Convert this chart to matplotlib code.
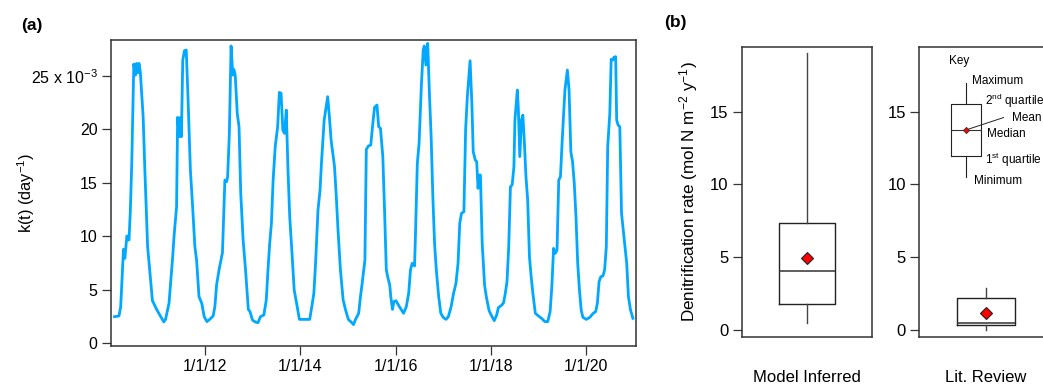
import numpy as np
import matplotlib
matplotlib.use("Agg")
import matplotlib.pyplot as plt

plt.rcParams['font.family'] = ['Liberation Sans', 'DejaVu Sans']
plt.rcParams['mathtext.fontset'] = 'custom'
plt.rcParams['mathtext.rm'] = 'Liberation Sans'
plt.rcParams['mathtext.it'] = 'Liberation Sans'
plt.rcParams['mathtext.default'] = 'regular'

# panel (a): k(t) time series, time in decimal years, k in 1e-3 day^-1
t_year = [
    2010.096, 2010.190, 2010.226, 2010.284, 2010.313, 2010.356, 2010.400, 2010.429, 2010.458, 2010.501,
    2010.537, 2010.559, 2010.588, 2010.610, 2010.639, 2010.660, 2010.697, 2010.733, 2010.791, 2010.841,
    2010.892, 2010.986, 2011.131, 2011.167, 2011.240, 2011.312, 2011.348, 2011.399, 2011.421, 2011.457,
    2011.479, 2011.500, 2011.529, 2011.565, 2011.602, 2011.638, 2011.689, 2011.732, 2011.783, 2011.819,
    2011.870, 2011.928, 2011.979, 2012.036, 2012.094, 2012.167, 2012.203, 2012.239, 2012.290, 2012.362,
    2012.413, 2012.449, 2012.471, 2012.507, 2012.543, 2012.579, 2012.601, 2012.630, 2012.673, 2012.710,
    2012.746, 2012.796, 2012.847, 2012.905, 2012.941, 2012.992, 2013.050, 2013.108, 2013.159, 2013.231,
    2013.282, 2013.318, 2013.354, 2013.390, 2013.426, 2013.470, 2013.521, 2013.557, 2013.593, 2013.629,
    2013.666, 2013.702, 2013.738, 2013.774, 2013.818, 2013.868, 2013.919, 2013.977, 2014.064, 2014.194,
    2014.238, 2014.281, 2014.317, 2014.368, 2014.411, 2014.440, 2014.498, 2014.571, 2014.607, 2014.643,
    2014.679, 2014.715, 2014.752, 2014.788, 2014.839, 2014.896, 2014.947, 2015.005, 2015.078, 2015.114,
    2015.150, 2015.222, 2015.259, 2015.295, 2015.353, 2015.382, 2015.425, 2015.476, 2015.512, 2015.555,
    2015.606, 2015.642, 2015.679, 2015.729, 2015.765, 2015.802, 2015.838, 2015.874, 2015.896, 2015.932,
    2015.961, 2016.004, 2016.077, 2016.164, 2016.222, 2016.272, 2016.309, 2016.345, 2016.395, 2016.417,
    2016.453, 2016.490, 2016.540, 2016.577, 2016.598, 2016.634, 2016.671, 2016.707, 2016.743, 2016.779,
    2016.815, 2016.852, 2016.902, 2016.946, 2016.997, 2017.055, 2017.105, 2017.163, 2017.214, 2017.264,
    2017.308, 2017.344, 2017.380, 2017.431, 2017.467, 2017.503, 2017.561, 2017.598, 2017.627, 2017.670,
    2017.699, 2017.728, 2017.757, 2017.778, 2017.815, 2017.865, 2017.902, 2017.960, 2018.010, 2018.068,
    2018.119, 2018.155, 2018.227, 2018.264, 2018.300, 2018.336, 2018.372, 2018.408, 2018.444, 2018.481,
    2018.502, 2018.553, 2018.575, 2018.604, 2018.640, 2018.669, 2018.698, 2018.734, 2018.770, 2018.807,
    2018.843, 2018.879, 2018.930, 2018.988, 2019.060, 2019.133, 2019.191, 2019.241, 2019.277, 2019.314,
    2019.350, 2019.386, 2019.422, 2019.458, 2019.495, 2019.552, 2019.603, 2019.639, 2019.676, 2019.712,
    2019.748, 2019.784, 2019.820, 2019.857, 2019.893, 2019.929, 2020.001, 2020.074, 2020.146, 2020.197,
    2020.233, 2020.269, 2020.305, 2020.349, 2020.385, 2020.421, 2020.450, 2020.494, 2020.523, 2020.559,
    2020.580, 2020.617, 2020.638, 2020.667, 2020.704, 2020.740, 2020.776, 2020.812, 2020.849, 2020.885,
    2020.929, 2020.979,
]
k_vals = [
    2.49, 2.56, 3.43, 8.79, 7.95, 10.04, 9.66, 12.47, 16.83, 26.12,
    25.09, 26.18, 25.31, 26.18, 25.31, 23.85, 21.20, 16.21, 9.04, 6.55,
    3.99, 3.12, 2.00, 2.24, 3.74, 7.79, 10.13, 12.78, 21.13, 19.33,
    21.13, 19.33, 26.50, 27.37, 27.43, 23.07, 16.21, 13.09, 9.04, 7.79,
    4.36, 3.74, 2.49, 2.03, 2.24, 2.56, 3.43, 5.46, 6.86, 8.48,
    15.27, 15.12, 15.59, 19.64, 27.81, 25.09, 25.62, 25.09, 21.51, 20.26,
    14.03, 9.66, 6.86, 3.18, 2.96, 2.18, 2.00, 1.93, 2.49, 2.65,
    4.05, 6.86, 9.35, 11.22, 15.27, 18.39, 20.26, 23.47, 23.38, 19.95,
    19.64, 21.82, 16.21, 11.85, 8.73, 4.99, 3.74, 2.24, 2.24, 2.24,
    3.43, 4.68, 7.48, 12.47, 14.34, 16.83, 20.89, 23.07, 21.20, 19.01,
    17.77, 16.52, 13.72, 10.60, 6.86, 4.05, 3.12, 2.24, 1.93, 1.75,
    2.18, 2.81, 4.36, 5.61, 7.79, 18.14, 18.45, 18.55, 20.26, 22.07,
    22.29, 20.26, 20.11, 17.46, 12.47, 6.86, 6.08, 5.46, 4.36, 3.18,
    3.90, 3.99, 3.43, 2.81, 3.43, 4.68, 6.86, 7.48, 7.23, 10.60,
    16.83, 18.70, 24.31, 27.43, 27.81, 26.03, 28.05, 23.38, 19.33, 13.72,
    9.35, 6.86, 4.36, 2.81, 2.43, 2.24, 2.49, 3.43, 4.68, 5.61,
    7.48, 11.22, 12.16, 12.31, 19.95, 23.07, 26.43, 22.44, 17.92, 17.14,
    16.99, 14.50, 15.74, 15.74, 9.35, 5.46, 4.36, 3.05, 2.59, 2.12,
    2.65, 3.34, 3.58, 3.80, 4.68, 5.77, 9.04, 14.65, 14.81, 16.52,
    20.89, 23.69, 21.82, 17.46, 20.89, 21.35, 19.01, 15.59, 13.40, 8.10,
    6.23, 4.68, 2.81, 2.59, 2.34, 2.03, 2.03, 2.96, 5.30, 8.88,
    8.42, 8.73, 15.27, 15.59, 19.01, 23.69, 25.56, 23.69, 17.92, 16.99,
    14.96, 11.85, 7.48, 4.99, 3.12, 2.43, 2.24, 2.43, 2.81, 2.96,
    3.74, 5.77, 6.23, 6.30, 6.86, 9.04, 18.39, 21.51, 26.56, 26.50,
    26.75, 26.81, 20.89, 20.42, 20.26, 12.16, 10.60, 9.04, 7.48, 4.36,
    3.12, 2.34,
]
x_ticks = [2012, 2014, 2016, 2018, 2020]
x_ticklabels = ["1/1/12", "1/1/14", "1/1/16", "1/1/18", "1/1/20"]
y_ticks = [0, 5, 10, 15, 20, 25]
y_ticklabels = ["0", "5", "10", "15", "20", "25 x 10$^{-3}$"]

# panel (b): box plot statistics (mol N m-2 y-1)
groups = ["Model Inferred", "Lit. Review"]
stat_min = [0.46, 0.0]
stat_q1 = [1.77, 0.34]
stat_med = [4.08, 0.50]
stat_q3 = [7.37, 2.17]
stat_max = [19.02, 2.91]
stat_mean = [4.93, 1.15]

# key box (illustration)
key_stats = dict(whislo=10.54, q1=11.98, med=13.75, q3=15.51, whishi=16.95, mean=13.75)
key_labels = ["Maximum", "2$^{nd}$ quartile", "Mean", "Median", "1$^{st}$ quartile", "Minimum"]

fig = plt.figure(figsize=(10.43, 3.86), dpi=100)
W, H = 1043, 386

def px_axes(left, top, right, bottom):
    return fig.add_axes([left / W, 1 - bottom / H, (right - left) / W, (bottom - top) / H])

spine_col = '#333333'

# ---- panel (a)
ax = px_axes(110.7, 40, 636, 346)
ax.plot(t_year, np.array(k_vals) * 1e-3, color='#00a8ff', lw=2.0)
ax.set_xlim(2010.016, 2021.044)
ax.set_ylim(-0.25e-3, 28.37e-3)
ax.set_xticks(x_ticks)
ax.set_xticklabels(x_ticklabels)
ax.set_yticks(np.array(y_ticks) * 1e-3)
ax.set_yticklabels(y_ticklabels)
ax.tick_params(direction='out', length=6.5, width=0.9, color=spine_col, labelsize=11.5, pad=3)
ax.set_ylabel("k(t) (day$^{-1}$)", fontsize=11.8)
ax.yaxis.set_label_coords(-0.14, 0.5)
for s in ax.spines.values():
    s.set_color(spine_col)
    s.set_linewidth(1.1)
fig.text(21 / W, 1 - 25.5 / H, "(a)", fontsize=12.5, fontweight='bold', va='center')

# ---- panel (b)
fig.text(664 / W, 1 - 22.5 / H, "(b)", fontsize=12.5, fontweight='bold', va='center')

ax_l = px_axes(741.7, 46.7, 872, 336.7)
ax_r = px_axes(919.3, 46.7, 1053, 336.7)

boxprops = dict(color='#222222', linewidth=1.0)
whiskerprops = dict(color='#444444', linewidth=1.0)
medianprops = dict(color='#333333', linewidth=1.1)
meanprops = dict(marker='D', markerfacecolor='#ff0000', markeredgecolor='#222222',
                 markersize=6.2, markeredgewidth=0.8)

for i, a in enumerate([ax_l, ax_r]):
    st = [dict(whislo=stat_min[i], q1=stat_q1[i], med=stat_med[i], q3=stat_q3[i],
               whishi=stat_max[i], mean=stat_mean[i], label=groups[i])]
    a.bxp(st, positions=[0], widths=0.87, showmeans=True, showcaps=False, showfliers=False,
          boxprops=boxprops, whiskerprops=whiskerprops, medianprops=medianprops,
          meanprops=meanprops)
    a.set_xlim(-1, 1)
    a.set_ylim(-0.46, 19.47)
    a.set_yticks([0, 5, 10, 15])
    a.tick_params(axis='y', direction='out', length=6.5, width=0.9, color=spine_col, labelsize=12, pad=3)
    a.tick_params(axis='x', length=0, labelsize=12, pad=24)
    for s in a.spines.values():
        s.set_color(spine_col)
        s.set_linewidth(1.1)

ax_l.set_ylabel("Denitrification rate (mol N m$^{-2}$ y$^{-1}$)", fontsize=12.3)
ax_l.yaxis.set_label_coords(-0.32, 0.5)

# key drawn in the right axes
kx = -0.30
key_props = dict(color='#222222', linewidth=0.8)
ax_r.bxp([key_stats], positions=[kx], widths=0.45, showmeans=True, showcaps=False,
         showfliers=False, boxprops=key_props, whiskerprops=key_props,
         medianprops=dict(color='#333333', linewidth=0.8),
         meanprops=dict(marker='D', markerfacecolor='#ff0000', markeredgecolor='#222222',
                        markersize=3.2, markeredgewidth=0.5))
ax_r.set_xticks([0])
ax_r.set_xticklabels([groups[1]])
ax_l.set_xticks([0])
ax_l.set_xticklabels([groups[0]])
ax_r.plot([kx, 0.26], [key_stats['mean'], 14.6], color='#222222', lw=0.7)

ax_r.text(-0.41, 18.5, "Key", fontsize=8.5, ha='center', va='center')
key_xy = [(-0.21, 17.1), (-0.015, 15.75), (0.38, 14.6), (0.01, 13.5), (-0.015, 11.7), (-0.18, 10.27)]
for lab, (x, y) in zip(key_labels, key_xy):
    ax_r.text(x, y, lab, fontsize=8.5, ha='left', va='center')

fig.savefig("out.png", dpi=100)
